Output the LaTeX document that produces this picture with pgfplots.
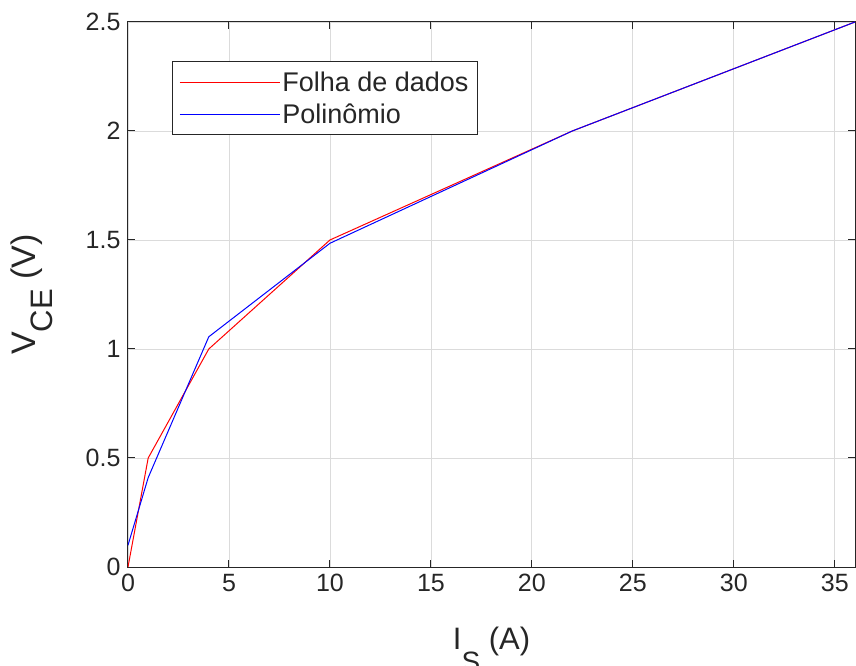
\documentclass[border=0pt]{standalone}
\usepackage{fontspec}
\setmainfont{Liberation Sans}
\usepackage{pgfplots}
\pgfplotsset{compat=1.18}
\definecolor{axgray}{RGB}{38,38,38}
\begin{document}
\begin{tikzpicture}
\begin{axis}[
  scale only axis, width=727pt, height=545pt,
  xmin=0, xmax=36, ymin=0, ymax=2.5,
  xtick={0,5,...,35}, ytick={0,0.5,1,1.5,2,2.5},
  grid=major, major grid style={black!14, line width=0.8pt},
  tick align=inside, major tick length=7pt,
  axis line style={axgray, line width=1pt},
  tick style={axgray, line width=1pt},
  every tick/.style={axgray, line width=1pt},
  ticklabel style={font=\fontsize{25}{30}\selectfont, text=axgray},
  /pgf/number format/assume math mode=true,
  yticklabel style={/pgf/number format/fixed, xshift=-4pt},
  xticklabel style={yshift=-4pt},
  xlabel={\fontsize{31}{36}\selectfont I\raisebox{-22pt}{\fontsize{28}{28}\selectfont S} (A)},
  ylabel={\fontsize{34}{39}\selectfont V\raisebox{-17pt}{\fontsize{31}{31}\selectfont CE} (V)},
  label style={text=axgray},
  xlabel style={at={(rel axis cs:0.5,0)}, anchor=base, yshift=-82pt},
  ylabel style={at={(rel axis cs:0,0.5)}, anchor=base, yshift=92pt},
  legend style={at={(0.0605,0.928)}, anchor=north west, draw=axgray, line width=0.8pt,
    font=\fontsize{27}{32}\selectfont, text=axgray, inner xsep=7pt, inner ysep=8pt,
    row sep=7pt},
  legend cell align=left,
  legend image code/.code={\draw[#1, line width=1pt] (0pt,0pt) -- (93pt,0pt); \path (0pt,0pt) -- (100pt,0pt);},
]
\addplot[red, line width=1pt] coordinates {(0,0) (1,0.5) (4,1.0) (10,1.5) (22,2.0) (36,2.5)};
\addlegendentry{Folha de dados}
\addplot[blue, line width=1pt] coordinates {(0,0.1) (1,0.41) (4,1.056) (10,1.485) (22,2.0) (36,2.5)};
\addlegendentry{Polinômio}
\end{axis}
\pgfresetboundingbox
\path[use as bounding box] (current axis.south west) ++(-128pt,-99pt) rectangle ++(856pt,666pt);
\end{tikzpicture}
\end{document}
